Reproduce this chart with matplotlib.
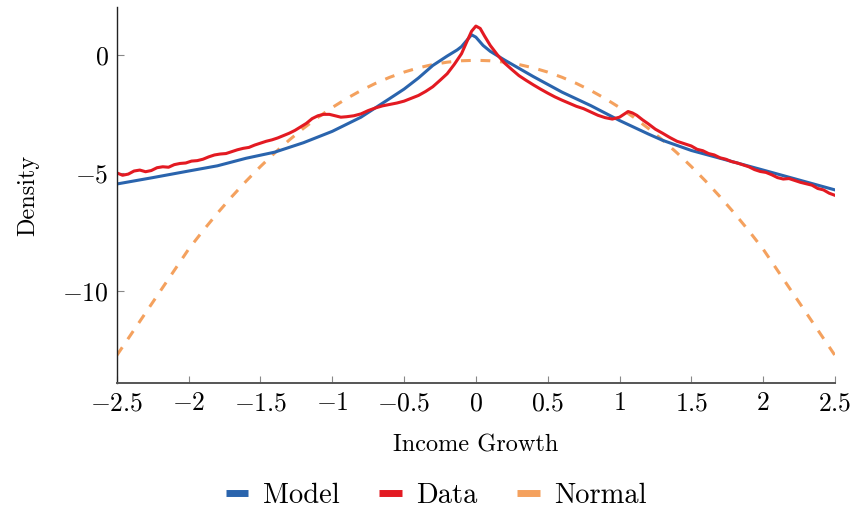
import matplotlib
matplotlib.use("Agg")
import matplotlib.pyplot as plt
from matplotlib.lines import Line2D
from matplotlib.ticker import FuncFormatter

plt.rcParams["font.family"] = "serif"
plt.rcParams["font.serif"] = ["cmr10", "DejaVu Serif"]
plt.rcParams["mathtext.fontset"] = "cm"
plt.rcParams["axes.formatter.use_mathtext"] = True

# log density of income growth
model_x = [-2.5, -2.25, -2.0, -1.8, -1.6, -1.4, -1.2, -1.0, -0.8, -0.6, -0.5, -0.4,
           -0.3, -0.2, -0.13, -0.1, -0.03, 0.0, 0.05, 0.1, 0.2, 0.4, 0.6, 0.8, 1.0,
           1.2, 1.3, 1.5, 1.7, 2.0, 2.25, 2.5]
model_y = [-5.47, -5.2, -4.92, -4.70, -4.38, -4.12, -3.72, -3.24, -2.64, -1.85, -1.45, -0.98,
           -0.45, -0.05, 0.21, 0.35, 0.85, 0.75, 0.40, 0.15, -0.22, -0.92, -1.58, -2.15, -2.78,
           -3.35, -3.62, -4.05, -4.38, -4.88, -5.3, -5.72]

data_x = [-2.50, -2.46, -2.42, -2.38, -2.34, -2.30, -2.26, -2.22, -2.18, -2.14, -2.10, -2.06,
          -2.02, -1.98, -1.94, -1.90, -1.86, -1.82, -1.78, -1.74, -1.70, -1.66, -1.62, -1.58,
          -1.54, -1.50, -1.46, -1.42, -1.38, -1.34, -1.30, -1.26, -1.22, -1.18, -1.14, -1.10,
          -1.06, -1.02, -0.98, -0.94, -0.90, -0.85, -0.80, -0.75, -0.70, -0.65, -0.60, -0.55,
          -0.50, -0.45, -0.40, -0.35, -0.30, -0.25, -0.20, -0.15, -0.10, -0.06, -0.03, 0.00,
          0.03, 0.06, 0.10, 0.15, 0.20, 0.25, 0.30, 0.35, 0.40, 0.45, 0.50, 0.55, 0.60, 0.65,
          0.70, 0.75, 0.80, 0.85, 0.90, 0.95, 1.00, 1.03, 1.06, 1.09, 1.12, 1.16, 1.20, 1.25,
          1.30, 1.35, 1.40, 1.45, 1.50, 1.54, 1.58, 1.62, 1.66, 1.70, 1.74, 1.78, 1.82, 1.86,
          1.90, 1.94, 1.98, 2.02, 2.06, 2.10, 2.14, 2.18, 2.22, 2.26, 2.30, 2.34, 2.38, 2.42,
          2.46, 2.50]
data_y = [-5.00, -5.10, -5.05, -4.92, -4.88, -4.95, -4.90, -4.78, -4.74, -4.76, -4.65, -4.60,
          -4.58, -4.50, -4.48, -4.42, -4.32, -4.24, -4.20, -4.18, -4.10, -4.02, -3.96, -3.92,
          -3.82, -3.74, -3.66, -3.60, -3.52, -3.42, -3.32, -3.20, -3.05, -2.90, -2.70, -2.58,
          -2.52, -2.52, -2.58, -2.64, -2.62, -2.58, -2.50, -2.36, -2.25, -2.16, -2.10, -2.04,
          -1.96, -1.84, -1.72, -1.55, -1.35, -1.08, -0.80, -0.40, 0.05, 0.60, 1.00, 1.22,
          1.12, 0.80, 0.40, 0.00, -0.35, -0.62, -0.88, -1.08, -1.27, -1.45, -1.62, -1.78, -1.92, -2.05,
          -2.18, -2.28, -2.42, -2.56, -2.66, -2.72, -2.64, -2.52, -2.40, -2.46, -2.56, -2.75, -2.92, -3.15,
          -3.32, -3.50, -3.66, -3.76, -3.86, -4.00, -4.06, -4.18, -4.24, -4.36, -4.42, -4.52, -4.58, -4.66,
          -4.74, -4.86, -4.94, -4.98, -5.08, -5.20, -5.26, -5.24, -5.32, -5.40, -5.46, -5.52, -5.66, -5.72,
          -5.86, -5.95]

normal_x = [-2.5, -2.0, -1.9, -1.8, -1.7, -1.6, -1.5, -1.4, -1.3, -1.2, -1.1, -1.0, -0.9, -0.8,
            -0.7, -0.6, -0.5, -0.4, -0.3, -0.2, -0.1, 0.0, 0.1, 0.2, 0.3, 0.4, 0.5, 0.6, 0.7,
            0.8, 0.9, 1.0, 1.1, 1.2, 1.3, 1.4, 1.5, 1.6, 1.7, 1.8, 1.9, 2.0, 2.5]
normal_y = [-12.73, -8.23, -7.45, -6.71, -6.01, -5.35, -4.73, -4.15, -3.61, -3.11, -2.65, -2.23,
            -1.85, -1.51, -1.21, -0.95, -0.73, -0.55, -0.41, -0.31, -0.25, -0.23, -0.25, -0.31,
            -0.41, -0.55, -0.73, -0.95, -1.21, -1.51, -1.85, -2.23, -2.65, -3.11, -3.61, -4.15,
            -4.73, -5.35, -6.01, -6.71, -7.45, -8.23, -12.73]

x_ticks = [-2.5, -2, -1.5, -1, -0.5, 0, 0.5, 1, 1.5, 2, 2.5]
y_ticks = [0, -5, -10]

c_model = "#2a64ad"
c_data = "#e31a22"
c_normal = "#f4a15e"

fig = plt.figure(figsize=(8.59, 5.18), dpi=100)
ax = fig.add_axes([0.136, 0.2606, 0.836, 0.726])

ax.plot(normal_x, normal_y, color=c_normal, lw=2.2, dashes=(3.2, 3.2))
ax.plot(model_x, model_y, color=c_model, lw=2.2)
ax.plot(data_x, data_y, color=c_data, lw=2.2)

ax.set_xlim(-2.5, 2.5)
ax.set_ylim(-13.9, 2.03)
ax.set_xticks(x_ticks)
ax.set_yticks(y_ticks)
tick_fmt = FuncFormatter(lambda v, pos: r"$%g$" % v)
ax.xaxis.set_major_formatter(tick_fmt)
ax.yaxis.set_major_formatter(tick_fmt)

ax.spines["top"].set_visible(False)
ax.spines["right"].set_visible(False)
ax.spines["left"].set_color("#222222")
ax.spines["bottom"].set_color("#555555")
ax.spines["left"].set_linewidth(1.0)
ax.spines["bottom"].set_linewidth(1.4)
ax.tick_params(direction="in", length=5, width=0.8, color="#888888",
               labelsize=18.5, pad=6)

ax.set_xlabel("Income Growth", fontsize=17.5, labelpad=14)
ax.set_ylabel("Density", fontsize=17.5, labelpad=16)

handles = [Line2D([], [], color=c, lw=5, solid_capstyle="butt")
           for c in (c_model, c_data, c_normal)]
fig.legend(handles, ["Model", "Data", "Normal"], loc="center", bbox_to_anchor=(0.508, 0.043),
           ncol=3, frameon=False, fontsize=20.5, handlelength=0.8, handletextpad=0.5,
           columnspacing=1.4)

fig.savefig("out.png", dpi=100)
